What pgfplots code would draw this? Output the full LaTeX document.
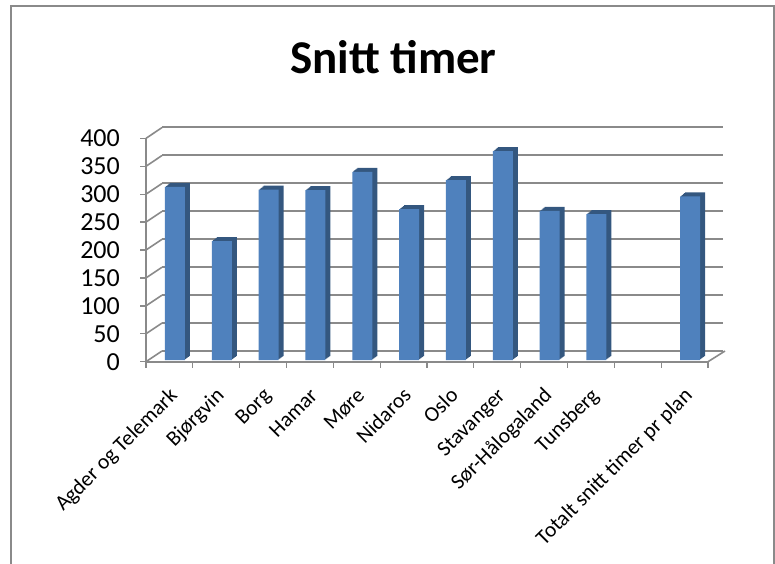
\documentclass[border=0pt]{standalone}
\usepackage{pgfplots}
\pgfplotsset{compat=1.18}
\usepackage{pgfplotstable}
\usepackage{fontspec}
\setmainfont{Carlito}
\definecolor{barfront}{HTML}{4F81BD}
\definecolor{barside}{HTML}{34577F}
\definecolor{gridgray}{HTML}{8A8A8A}
\pgfplotstableread{
x y
1 310
2 213
3 305
4 304
5 337
6 270
7 322
8 374
9 267
10 261
12 293
}\datatable
\begin{document}
\begin{tikzpicture}[x=1pt,y=1pt]
\useasboundingbox (0,0) rectangle (775,563);
\draw[gridgray,line width=1.3pt] (11,-10) rectangle (774,557);
\node[font=\bfseries\fontsize{47}{52}\selectfont,anchor=base] at (393.3,489.7) {Snitt timer};
% back wall
\begin{axis}[at={(162pt,212pt)},anchor=south west,scale only axis,
  width=561pt,height=224pt,xmin=0.5,xmax=12.5,ymin=0,ymax=400,
  axis line style={draw=none},xtick=\empty,ytick={0,50,...,400},
  yticklabels={},major tick length=0pt,ymajorgrids,
  major grid style={gridgray,line width=1.6pt}]
\end{axis}
% front axis
\begin{axis}[at={(146pt,201.3pt)},anchor=south west,scale only axis,
  width=562pt,height=223.4pt,xmin=0.5,xmax=12.5,ymin=0,ymax=400,
  axis x line*=bottom,axis y line*=left,
  axis line style={gridgray,line width=1.6pt,-},
  tick style={gridgray,line width=1.3pt},
  tick align=outside,major tick length=6pt,
  ytick={0,50,...,400},
  /pgf/number format/assume math mode=true,
  yticklabel style={font=\fontsize{26}{28}\selectfont,text=black,anchor=east,inner sep=0pt,xshift=-20pt},
  xtick={0.5,1.5,...,12.5},xticklabels={},
  extra x ticks={1,...,12},
  extra x tick labels={Agder og Telemark,Bjørgvin,Borg,Hamar,Møre,Nidaros,Oslo,Stavanger,Sør-Hålogaland,Tunsberg,{},Totalt snitt timer pr plan},
  extra x tick style={major tick length=0pt,
    xticklabel style={font=\fontsize{21.5}{24}\selectfont,xshift=9pt,yshift=-35pt,rotate=45,anchor=base east,inner sep=0pt}},
  clip=false]
\pgfplotsinvokeforeach{0,50,...,400}{\draw[gridgray,line width=1.6pt] (axis cs:0.5,#1) -- ++(16pt,10.7pt);}
\draw[gridgray,line width=1.6pt] (axis cs:12.5,0) -- ++(17pt,10.7pt);
\pgfplotsinvokeforeach{5,4,3,2,1}{
\addplot[ybar,bar width=20pt,bar shift={5.5pt+#1*1pt},yshift={1.7pt+#1*0.8pt},fill=barside,draw=none] table[x=x,y=y]{\datatable};
}
\addplot[ybar,bar width=20pt,bar shift=5.5pt,yshift=1.7pt,fill=barfront,draw=none] table[x=x,y=y]{\datatable};
\end{axis}
\end{tikzpicture}
\end{document}
